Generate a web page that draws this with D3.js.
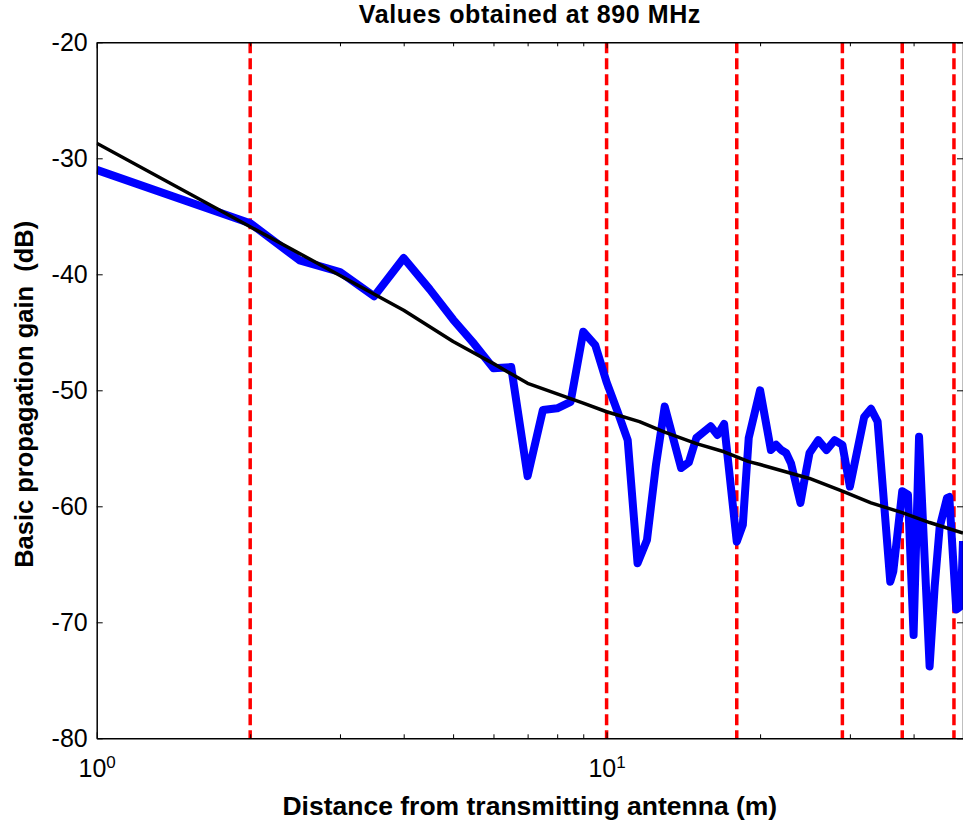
<!DOCTYPE html>
<html>
<head>
<meta charset="utf-8">
<script src="https://cdn.jsdelivr.net/npm/d3@7"></script>
<style>
  body { margin: 0; background: #fff; }
  svg { display: block; font-family: "Liberation Sans", Arial, sans-serif; }
  .axis path, .axis line { stroke: #000; }
</style>
</head>
<body>
<div class="content"></div>
<script>
//--> Measured gain (blue)
const distances = [1, 2, 2.5, 3, 3.5, 4, 4.5, 5, 5.5, 6, 6.5, 7, 7.5, 8, 8.5, 9, 9.5, 10, 10.5, 11,
  11.5, 12, 12.5, 13, 14, 14.5, 15, 16, 16.5, 17, 18, 18.5, 19, 20, 21, 21.5, 22, 22.5, 23, 24,
  24.5, 25, 26, 27, 28, 29, 30, 32, 33, 34, 36, 36.5, 38, 39, 40, 41, 43, 44, 45, 46.5, 47, 48.5,
  49.5, 50];
const gains = [-31.0, -35.6, -38.8, -39.8, -41.9, -38.6, -41.3, -43.9, -46.0, -48.1, -48.0, -57.4,
  -51.7, -51.55, -51.0, -44.95, -46.1, -49.3, -51.8, -54.3, -64.9, -62.9, -56.4, -51.4, -56.7,
  -56.2, -54.1, -53.1, -53.85, -52.9, -63.05, -61.6, -54.1, -50.0, -55.15, -54.7, -55.15, -55.4,
  -56.3, -59.7, -57.45, -55.4, -54.3, -55.15, -54.3, -54.7, -58.3, -52.3, -51.6, -52.7, -66.5,
  -65.6, -58.7, -59.0, -71.1, -54.0, -73.8, -66.9, -61.8, -59.3, -59.2, -68.9, -68.6, -63.0];

//--> Fitted model (black)
const fitDistances = [1, 2, 3, 4, 5, 6, 7, 8, 9, 10, 11.6, 13, 15, 17, 19, 20, 25, 29, 33, 38, 43, 50];
const fitGains = [-28.7, -35.9, -40.1, -43.1, -45.8, -47.7, -49.4, -50.3, -51.1, -51.85, -52.7,
  -53.6, -54.6, -55.3, -56.15, -56.4, -57.6, -58.7, -59.7, -60.55, -61.4, -62.3];

//--> Red dashed markers
const markers = [2, 10, 18, 29, 38, 48];

//--> Ticks
const yTicks = [-20, -30, -40, -50, -60, -70, -80];
const xMajor = [1, 10];
const xMinor = [2, 3, 4, 5, 6, 7, 8, 9, 20, 30, 40, 50];

//--> Set up main elements
const width = 963;
const height = 828;
const margin = { top: 42.3, right: 0, bottom: 89.7, left: 96.7 };

const x = d3.scaleLog().domain([1, 50]).range([margin.left, width - margin.right]);
const y = d3.scaleLinear().domain([-80, -20]).range([height - margin.bottom, margin.top]);

const svg = d3
  .select(".content")
  .append("svg")
  .attr("width", width)
  .attr("height", height);

svg.append("clipPath")
  .attr("id", "plot-clip")
  .append("rect")
  .attr("x", margin.left)
  .attr("y", margin.top)
  .attr("width", width - margin.left - margin.right)
  .attr("height", height - margin.top - margin.bottom);

const plot = svg.append("g").attr("clip-path", "url(#plot-clip)");

//--> Marker lines
plot
  .selectAll("line.marker")
  .data(markers)
  .join("line")
  .attr("class", "marker")
  .attr("x1", d => x(d))
  .attr("x2", d => x(d))
  .attr("y1", y(-20))
  .attr("y2", y(-80))
  .attr("stroke", "#ff0000")
  .attr("stroke-width", 3.5)
  .attr("stroke-dasharray", "11,5");

//--> Lines
const measured = distances.map((d, i) => [d, gains[i]]);
const fitted = fitDistances.map((d, i) => [d, fitGains[i]]);

const line = d3.line().x(d => x(d[0])).y(d => y(d[1]));

plot.append("path")
  .datum(measured)
  .attr("d", line)
  .attr("fill", "none")
  .attr("stroke", "#0000ff")
  .attr("stroke-width", 8)
  .attr("stroke-linejoin", "round");

plot.append("path")
  .datum(fitted)
  .attr("d", line)
  .attr("fill", "none")
  .attr("stroke", "#000")
  .attr("stroke-width", 3.5)
  .attr("stroke-linejoin", "round");

//--> Axes
const leftAxis = svg.append("g")
  .attr("class", "axis")
  .attr("transform", `translate(${margin.left},0)`)
  .call(d3.axisLeft(y).tickValues(yTicks).tickSizeInner(-6).tickSizeOuter(0).tickPadding(9)
    .tickFormat(d => String(d)));

leftAxis.selectAll("text")
  .attr("font-size", 25)
  .attr("fill", "#000")
  .attr("font-family", "Liberation Sans, Arial, sans-serif");

svg.append("g")
  .attr("class", "axis")
  .attr("transform", `translate(${width - margin.right},0)`)
  .call(d3.axisRight(y).tickValues(yTicks).tickSizeInner(-6).tickSizeOuter(0).tickFormat(""));

const bottomAxis = svg.append("g")
  .attr("class", "axis")
  .attr("transform", `translate(0,${height - margin.bottom})`)
  .call(d3.axisBottom(x).tickValues(xMajor).tickSizeInner(-6).tickSizeOuter(0).tickPadding(21));

bottomAxis.selectAll(".tick text")
  .attr("font-size", 25)
  .attr("fill", "#000")
  .attr("font-family", "Liberation Sans, Arial, sans-serif")
  .text("10")
  .append("tspan")
  .attr("dy", "-0.55em")
  .attr("font-size", 17)
  .text(d => Math.round(Math.log10(d)));

bottomAxis.append("g")
  .call(d3.axisBottom(x).tickValues(xMinor).tickSizeInner(-4).tickSizeOuter(0).tickFormat(""))
  .select(".domain").remove();

const topAxis = svg.append("g")
  .attr("class", "axis")
  .attr("transform", `translate(0,${margin.top})`)
  .call(d3.axisTop(x).tickValues(xMajor).tickSizeInner(-6).tickSizeOuter(0).tickFormat(""));

topAxis.append("g")
  .call(d3.axisTop(x).tickValues(xMinor).tickSizeInner(-4).tickSizeOuter(0).tickFormat(""))
  .select(".domain").remove();

svg.selectAll(".axis .domain").attr("stroke-width", 1.5);

//--> Titles
svg.append("text")
  .attr("x", (margin.left + width) / 2)
  .attr("y", 23)
  .attr("text-anchor", "middle")
  .attr("font-size", 25)
  .attr("font-weight", "bold")
  .attr("letter-spacing", 0.6)
  .text("Values obtained at 890 MHz");

svg.append("text")
  .attr("x", (margin.left + width) / 2)
  .attr("y", 815)
  .attr("text-anchor", "middle")
  .attr("font-size", 26.5)
  .attr("font-weight", "bold")
  .text("Distance from transmitting antenna (m)");

svg.append("text")
  .attr("transform", `translate(33,${(margin.top + height - margin.bottom) / 2 + 4}) rotate(-90)`)
  .attr("text-anchor", "middle")
  .attr("font-size", 25.5)
  .attr("font-weight", "bold")
  .attr("xml:space", "preserve")
  .style("white-space", "pre")
  .text("Basic propagation gain  (dB)");
</script>
</body>
</html>
